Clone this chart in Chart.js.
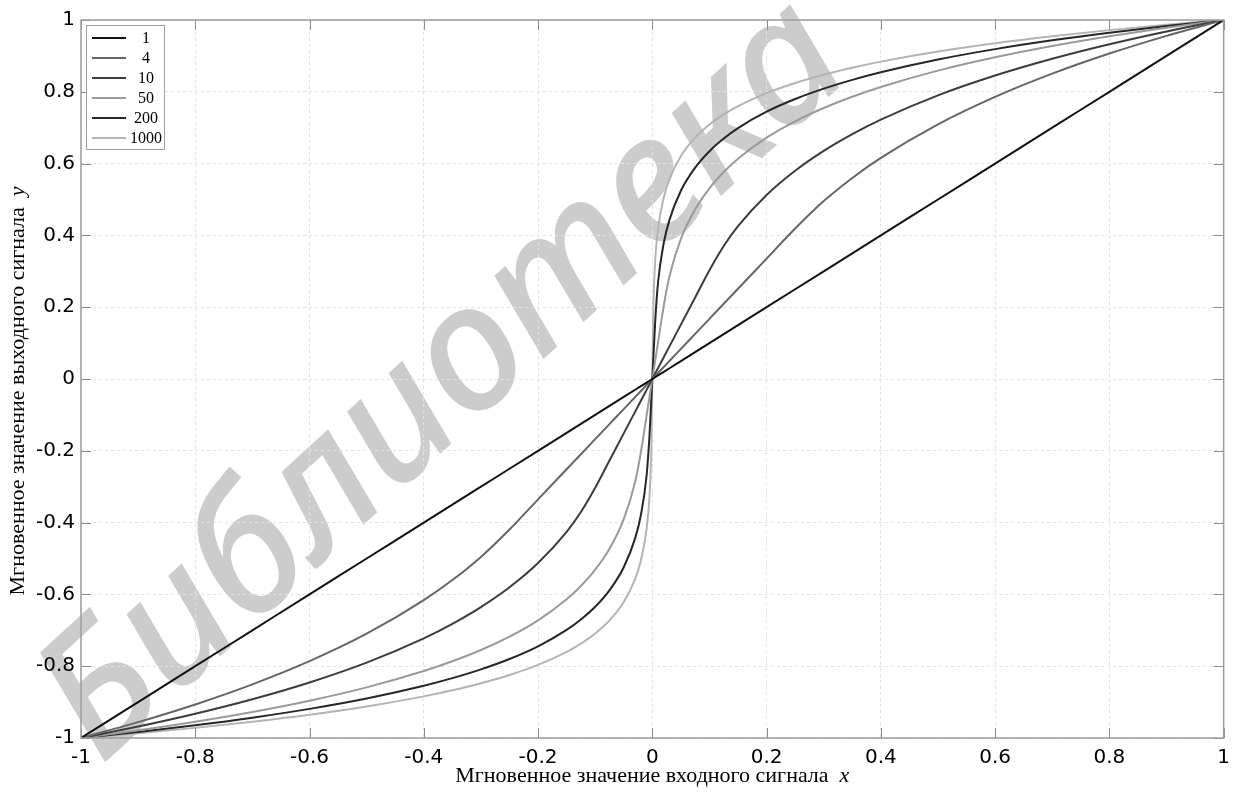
<!DOCTYPE html>
<html><head><meta charset="utf-8">
<script src="https://cdn.jsdelivr.net/npm/chart.js@4"></script>
<style>html,body{margin:0;padding:0;background:#fff}#wrap{width:1238px;height:793px;position:relative}</style>
</head><body><div id="wrap"><canvas id="c"></canvas></div>
<script>
// ---- data (odd-symmetric curves, positive half listed) ----
const seriesNames = ['1', '4', '10', '50', '200', '1000'];
const xPos = [0.001, 0.002, 0.005, 0.01, 0.02, 0.03, 0.05, 0.075, 0.1, 0.125, 0.15, 0.2, 0.25, 0.3, 0.35, 0.4, 0.5, 0.6, 0.7, 0.8, 0.9, 1];
const yA1 = [0.001, 0.002, 0.005, 0.01, 0.02, 0.03, 0.05, 0.075, 0.1, 0.125, 0.15, 0.2, 0.25, 0.3, 0.35, 0.4, 0.5, 0.6, 0.7, 0.8, 0.9, 1];
const yA4 = [0.0017, 0.0034, 0.0084, 0.0168, 0.0335, 0.0503, 0.0838, 0.1257, 0.1676, 0.2095, 0.2514, 0.3352, 0.4191, 0.4955, 0.5601, 0.6160, 0.7095, 0.7859, 0.8505, 0.9065, 0.9558, 1];
const yA10 = [0.0030, 0.0061, 0.0151, 0.0303, 0.0606, 0.0908, 0.1514, 0.2271, 0.3028, 0.3704, 0.4256, 0.5127, 0.5802, 0.6354, 0.6821, 0.7225, 0.7901, 0.8453, 0.8920, 0.9324, 0.9681, 1];
const yA50 = [0.0102, 0.0204, 0.0509, 0.1018, 0.2036, 0.2861, 0.3901, 0.4727, 0.5312, 0.5767, 0.6138, 0.6724, 0.7178, 0.7549, 0.7863, 0.8135, 0.8589, 0.8960, 0.9274, 0.9546, 0.9786, 1];
const yA200 = [0.0318, 0.0635, 0.1588, 0.2688, 0.3789, 0.4433, 0.5244, 0.5887, 0.6344, 0.6698, 0.6988, 0.7445, 0.7799, 0.8088, 0.8333, 0.8545, 0.8900, 0.9189, 0.9434, 0.9646, 0.9833, 1];
const yA1000 = [0.1265, 0.2141, 0.3300, 0.4176, 0.5053, 0.5566, 0.6212, 0.6724, 0.7088, 0.7370, 0.7601, 0.7965, 0.8247, 0.8477, 0.8672, 0.8841, 0.9123, 0.9354, 0.9549, 0.9718, 0.9867, 1];
const tickValues = [-1, -0.8, -0.6, -0.4, -0.2, 0, 0.2, 0.4, 0.6, 0.8, 1];
const tickLabels = ['-1', '-0.8', '-0.6', '-0.4', '-0.2', '0', '0.2', '0.4', '0.6', '0.8', '1'];
const xTitle = ['Мгновенное значение входного сигнала  ', 'x'];
const yTitle = ['Мгновенное значение выходного сигнала  ', 'y'];
const watermarkText = 'Библиотека';

// ---- styles ----
const colors = ['#111111', '#666666', '#3c3c3c', '#9a9a9a', '#262626', '#b4b4b4'];
const seriesY = [yA1, yA4, yA10, yA50, yA200, yA1000];

function buildPoints(ys) {
  const pts = [];
  for (let i = xPos.length - 1; i >= 0; i--) pts.push({x: -xPos[i], y: -ys[i]});
  pts.push({x: 0, y: 0});
  for (let i = 0; i < xPos.length; i++) pts.push({x: xPos[i], y: ys[i]});
  return pts;
}

const datasets = seriesNames.map((n, i) => ({
  label: n,
  data: buildPoints(seriesY[i]),
  borderColor: colors[i],
  backgroundColor: colors[i],
  borderWidth: 2,
  pointRadius: 0,
  fill: false,
  cubicInterpolationMode: 'monotone'
}));

const watermarkPlugin = {
  id: 'watermark',
  beforeDraw(chart) {
    const ctx = chart.ctx;
    ctx.save();
    ctx.translate(445, 382);
    ctx.rotate(-42.6 * Math.PI / 180);
    ctx.font = 'italic 500 175px "Noto Sans"';
    ctx.fillStyle = '#cccccc';
    ctx.textAlign = 'center';
    ctx.textBaseline = 'middle';
    ctx.fillText(watermarkText, 0, 0);
    ctx.restore();
  }
};

const framePlugin = {
  id: 'frame',
  afterDatasetsDraw(chart) {
    const ctx = chart.ctx, a = chart.chartArea;
    const xs = chart.scales.x, ys = chart.scales.y;
    ctx.save();
    ctx.strokeStyle = '#8c8c8c';
    ctx.lineWidth = 1;
    ctx.beginPath();
    tickValues.forEach(v => {
      const px = Math.round(xs.getPixelForValue(v)) + 0.5;
      ctx.moveTo(px, a.bottom); ctx.lineTo(px, a.bottom - 10);
      ctx.moveTo(px, a.top); ctx.lineTo(px, a.top + 10);
      const py = Math.round(ys.getPixelForValue(v)) + 0.5;
      ctx.moveTo(a.left, py); ctx.lineTo(a.left + 10, py);
      ctx.moveTo(a.right, py); ctx.lineTo(a.right - 10, py);
    });
    ctx.stroke();
    ctx.strokeStyle = '#9c9c9c';
    ctx.lineWidth = 1.5;
    ctx.strokeRect(a.left, a.top, a.right - a.left, a.bottom - a.top);
    // legend
    const lx = 86.5, ly = 25.5, lw = 78, lh = 124;
    ctx.fillStyle = '#ffffff';
    ctx.fillRect(lx, ly, lw, lh);
    ctx.strokeStyle = '#a0a0a0';
    ctx.lineWidth = 1;
    ctx.strokeRect(lx, ly, lw, lh);
    ctx.font = '16px "Liberation Serif"';
    ctx.textAlign = 'center';
    ctx.textBaseline = 'middle';
    chart.data.datasets.forEach((d, i) => {
      const y = 38 + i * 20;
      ctx.strokeStyle = d.borderColor;
      ctx.lineWidth = 2;
      ctx.beginPath(); ctx.moveTo(92, y); ctx.lineTo(126, y); ctx.stroke();
      ctx.fillStyle = '#000';
      ctx.fillText(d.label, 146, y + 1);
    });
    ctx.restore();
  },
  afterDraw(chart) {
    const ctx = chart.ctx, a = chart.chartArea;
    const fN = '22px "Liberation Serif"', fI = 'italic 22px "Liberation Serif"';
    function drawParts(parts, cx, cy) {
      ctx.font = fN; const w0 = ctx.measureText(parts[0]).width;
      ctx.font = fI; const w1 = ctx.measureText(parts[1]).width;
      const start = cx - (w0 + w1) / 2;
      ctx.textAlign = 'left'; ctx.textBaseline = 'middle'; ctx.fillStyle = '#000';
      ctx.font = fN; ctx.fillText(parts[0], start, cy);
      ctx.font = fI; ctx.fillText(parts[1], start + w0, cy);
    }
    ctx.save();
    drawParts(xTitle, (a.left + a.right) / 2, 776);
    ctx.translate(18, 391);
    ctx.rotate(-Math.PI / 2);
    drawParts(yTitle, 0, 0);
    ctx.restore();
  }
};

function setTicks(scale) { scale.ticks = tickValues.map(v => ({value: v})); }

new Chart(document.getElementById('c'), {
  type: 'line',
  data: {datasets},
  plugins: [watermarkPlugin, framePlugin],
  options: {
    responsive: true,
    maintainAspectRatio: false,
    animation: false,
    layout: {padding: {top: 20, right: 9, left: 0, bottom: 0}},
    plugins: {legend: {display: false}, tooltip: {enabled: false}},
    scales: {
      x: {
        type: 'linear', min: -1, max: 1,
        afterBuildTicks: setTicks,
        afterFit(s) { s.height = 55; },
        grid: {color: '#e2e2e2', drawTicks: false, lineWidth: 1},
        border: {display: false, dash: [3, 3]},
        ticks: {autoSkip: false, maxRotation: 0, padding: 8, color: '#000',
          font: {family: 'DejaVu Sans', size: 20},
          callback: (v, i) => tickLabels[i]}
      },
      y: {
        type: 'linear', min: -1, max: 1,
        afterBuildTicks: setTicks,
        afterFit(s) { s.width = 81; },
        grid: {color: '#e2e2e2', drawTicks: false, lineWidth: 1},
        border: {display: false, dash: [3, 3]},
        ticks: {autoSkip: false, padding: 6, color: '#000',
          font: {family: 'DejaVu Sans', size: 20},
          callback: (v, i) => tickLabels[i]}
      }
    }
  }
});
</script>
</body></html>
